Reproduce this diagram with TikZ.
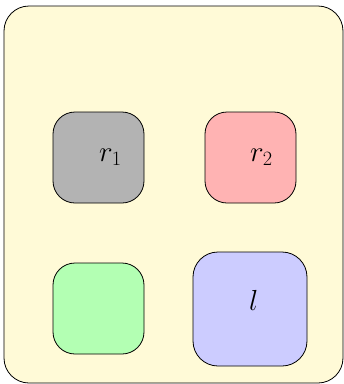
\documentclass[tikz,border=0pt]{standalone}
\usepackage{fix-cm}
\usepackage{tikz}
\usetikzlibrary{positioning}
\definecolor{cream}{RGB}{255,250,215}
\definecolor{ashgray}{RGB}{179,179,179}
\definecolor{rosered}{RGB}{255,179,179}
\definecolor{mintgreen}{RGB}{179,255,179}
\definecolor{lavblue}{RGB}{204,204,255}
\tikzset{
  region/.style={draw,line width=0.8pt,rounded corners=22,minimum width=91,minimum height=91,inner sep=0pt},
  tag/.style={anchor=base west,inner sep=0pt,font=\fontsize{29}{32}\selectfont}
}

\begin{document}
\begin{tikzpicture}[x=1pt,y=-1pt]
  \useasboundingbox (0,0) rectangle (344,384);
  % container
  \node[draw,line width=0.8pt,rounded corners=25,fill=cream,minimum width=339,minimum height=377,inner sep=0pt] (frame) at (173.5,194.5) {};
  % top row
  \node[region,fill=ashgray] (rone) at (98.5,157.5) {};
  \node[region,fill=rosered] (rtwo) at (250.5,157.5) {};
  \node[tag] (rlabone) at (99,161) {$r_1$};
  \node[tag] (rlabtwo) at (250,161) {$r_2$};
  % bottom row
  \node[region,fill=mintgreen] (gbox) at (98.5,308.5) {};
  \node[region,fill=lavblue,rounded corners=25,minimum width=114,minimum height=114] (lbox) at (250,309) {};
  \node[tag] (llab) at (249,310) {$l$};
\end{tikzpicture}
\end{document}
